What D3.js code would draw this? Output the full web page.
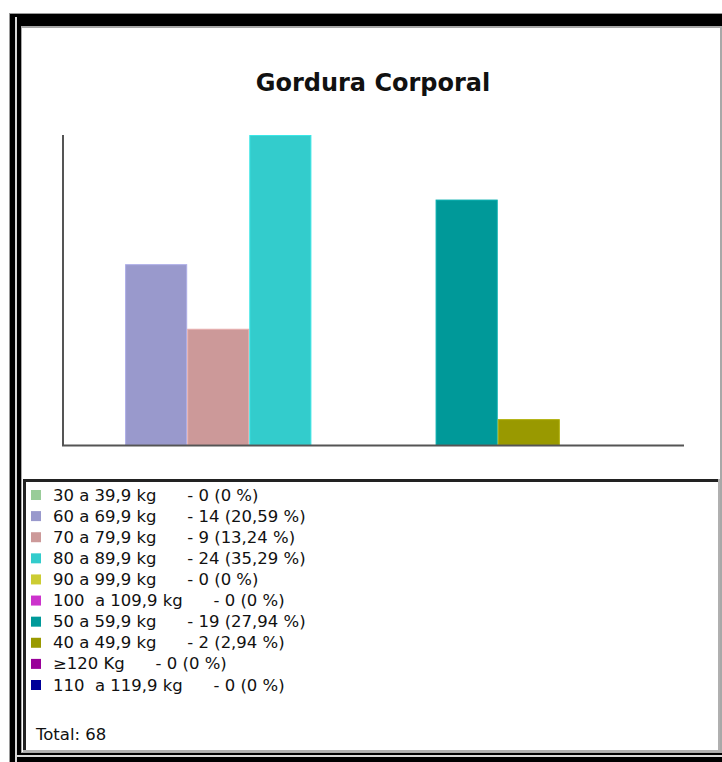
<!DOCTYPE html>
<html>
<head>
<meta charset="utf-8">
<script src="https://cdn.jsdelivr.net/npm/d3@7"></script>
<style>
  html, body { margin: 0; padding: 0; background: #fff; }
  svg { display: block; }
  .legend text { font-family: "DejaVu Sans", Verdana, sans-serif; font-size: 15px; fill: #111; white-space: pre; }
</style>
</head>
<body>
<svg id="chart" width="722" height="762"></svg>
<script>
// Weight classes, in the order the series are drawn
const categories = [
  "30 a 39,9 kg", "60 a 69,9 kg", "70 a 79,9 kg", "80 a 89,9 kg", "90 a 99,9 kg",
  "100  a 109,9 kg", "50 a 59,9 kg", "40 a 49,9 kg", "≥120 Kg", "110  a 119,9 kg"
];
// Number of people in each class
const counts = [0, 14, 9, 24, 0, 0, 19, 2, 0, 0];
// Series colours
const colors = [
  "#99cc99", "#9999cc", "#cc9999", "#33cccc", "#cccc33",
  "#cc33cc", "#009999", "#999900", "#990099", "#000099"
];
const title = "Gordura Corporal";
const totalLabel = "Total";

const total = d3.sum(counts);
const fmtPct = v => v === 0 ? "0" : (v * 100 / total).toFixed(2).replace(".", ",");

const svg = d3.select("#chart");

// ---- framed panel ----
const block = (x, y, w, h, fill) =>
  svg.append("rect").attr("x", x).attr("y", y).attr("width", w).attr("height", h).attr("fill", fill);
block(0, 0, 722, 762, "#fff");
block(9, 13, 800, 800, "#9a9a9a");
block(10, 14, 800, 800, "#000");
block(15, 17, 2, 800, "#d8d8d8");
block(17, 755, 800, 2, "#d8d8d8");
block(21, 26, 800, 727, "#a8a8a8");
block(22, 28, 698, 724, "#fff");

// ---- title ----
svg.append("text")
  .attr("x", 373).attr("y", 91)
  .attr("text-anchor", "middle")
  .style("font-family", "'DejaVu Sans', Verdana, sans-serif")
  .style("font-weight", "bold")
  .style("font-size", "24px")
  .attr("fill", "#111")
  .text(title);

// ---- bars ----
const x = d3.scaleBand().domain(categories).range([63, 684]).padding(0);
const y = d3.scaleLinear().domain([0, d3.max(counts)]).range([445, 135]);

const data = categories.map((c, i) => ({ cat: c, value: counts[i], color: colors[i] }));

svg.append("g").selectAll("rect")
  .data(data.filter(d => d.value > 0))
  .join("rect")
  .attr("x", d => x(d.cat) + 0.5)
  .attr("y", d => y(d.value) + 0.5)
  .attr("width", x.bandwidth() - 1)
  .attr("height", d => y(0) - y(d.value) - 0.5)
  .attr("fill", d => d.color)
  .attr("stroke", d => d3.color(d.color).brighter(0.35))
  .attr("stroke-width", 1);

// axes: plain lines, no ticks
const axisColor = "#555";
svg.append("line")
  .attr("x1", 63).attr("x2", 63)
  .attr("y1", y(d3.max(counts))).attr("y2", y(0) + 1)
  .attr("stroke", axisColor).attr("stroke-width", 2);
svg.append("line")
  .attr("x1", 62).attr("x2", x.range()[1])
  .attr("y1", y(0) + 0.5).attr("y2", y(0) + 0.5)
  .attr("stroke", axisColor).attr("stroke-width", 2);

// ---- legend box ----
block(23, 479, 697, 273, "#b0b0b0");
block(23, 479, 695, 271, "#222");
block(26, 482, 692, 268, "#fff");

const legend = svg.append("g").attr("class", "legend");
const rowY = d3.scaleLinear().domain([0, categories.length - 1]).range([495, 685]);

const rows = legend.selectAll("g.row")
  .data(data)
  .join("g")
  .attr("class", "row")
  .attr("transform", (d, i) => `translate(0,${rowY(i)})`);

rows.append("rect")
  .attr("x", 31).attr("y", -5)
  .attr("width", 10).attr("height", 10)
  .attr("fill", d => d.color);

const txt = rows.append("text")
  .attr("transform", "translate(53,5.5) scale(1.1,1)");
txt.append("tspan").text(d => d.cat);
txt.append("tspan").attr("dx", 28).text(d => `- ${d.value} (${fmtPct(d.value)} %)`);

legend.append("text")
  .attr("transform", "translate(36,740) scale(1.1,1)")
  .text(`${totalLabel}: ${total}`);
</script>
</body>
</html>
